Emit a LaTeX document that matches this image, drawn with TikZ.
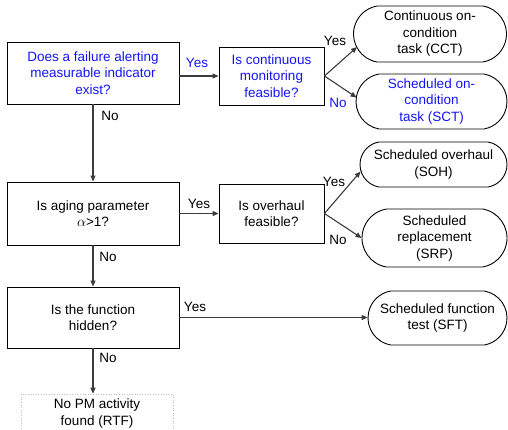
\documentclass[tikz,border=0pt]{standalone}
\usepackage{fontspec}
\setmainfont{Liberation Sans}
\usetikzlibrary{arrows.meta,shapes.misc,calc}
\definecolor{qblue}{RGB}{20,20,245}
\definecolor{lnk}{RGB}{60,60,60}
\begin{document}
\begin{tikzpicture}[x=1pt,y=-1pt,
  every node/.style={font=\fontsize{13.5}{16.5}\selectfont, align=center, inner sep=0pt},
  question/.style={draw=black, line width=0.9pt, rectangle},
  outcome/.style={draw=black, line width=0.9pt, rounded rectangle, rounded rectangle arc length=160},
  link/.style={draw=lnk, line width=1.1pt, -{Triangle[length=6pt,width=5pt]}},
  lbl/.style={font=\fontsize{13.5}{16.5}\selectfont}
]
\useasboundingbox (0,0) rectangle (508,429);

% decision boxes
\node[question, minimum width=172, minimum height=62, text=qblue] (b1) at (93,73)
  {Does a failure alerting\\measurable indicator\\exist?};
\node[question, minimum width=105, minimum height=58, text=qblue] (b2) at (271.5,76)
  {Is continuous\\monitoring\\feasible?};
\node[question, minimum width=172, minimum height=63] (b3) at (93,213.5)
  {Is aging parameter\\$\alpha$>1?};
\node[question, minimum width=105, minimum height=59] (b4) at (271.5,213.5)
  {Is overhaul\\feasible?};
\node[question, minimum width=172, minimum height=61] (b5) at (93,317.5)
  {Is the function\\hidden?};

% task outcomes
\node[outcome, minimum width=153, minimum height=56] (cct) at (430,34)
  {Continuous on-\\condition\\task (CCT)};
\node[outcome, minimum width=151, minimum height=55, text=qblue] (sct) at (431.5,101.5)
  {Scheduled on-\\condition\\task (SCT)};
\node[outcome, minimum width=147, minimum height=45] (soh) at (433.5,164.5)
  {Scheduled overhaul\\(SOH)};
\node[outcome, minimum width=145, minimum height=58] (srp) at (434.5,238)
  {Scheduled\\replacement\\(SRP)};
\node[outcome, minimum width=139, minimum height=54] (sft) at (437.5,318)
  {Scheduled function\\test (SFT)};
\node[draw=black!25, dotted, line width=0.6pt, minimum width=152, minimum height=39] (rtf) at (97,413.5)
  {No PM activity\\found (RTF)};

% connectors
\draw[link] (b1.east |- b2.west) -- (b2.west);
\draw[link] (b1.south) -- (b3.north);
\draw[link] (b2.east) -- ($(cct.west)+(4,13)$);
\draw[link] (b2.east) -- ($(sct.west)+(1,-4)$);
\draw[link] (b3.east) -- (b4.west);
\draw[link] (b3.south) -- (b5.north);
\draw[link] (b4.east) -- ($(soh.west)+(1,7)$);
\draw[link] (b4.east) -- (srp.west);
\draw[link] (b5.east) -- (b5.east -| sft.west);
\draw[link] (b5.south) -- (b5.south |- rtf.north);

% branch labels
\node[lbl, text=qblue] (y1) at (197,63) {Yes};
\node[lbl] (n1) at (110,116) {No};
\node[lbl] (y2) at (335,41) {Yes};
\node[lbl, text=qblue] (n2) at (338,103) {No};
\node[lbl] (y3) at (199,204) {Yes};
\node[lbl] (n3) at (108,257) {No};
\node[lbl] (y4) at (334,182) {Yes};
\node[lbl] (n4) at (338,240) {No};
\node[lbl] (y5) at (195,307) {Yes};
\node[lbl] (n5) at (108,358) {No};
\end{tikzpicture}
\end{document}
